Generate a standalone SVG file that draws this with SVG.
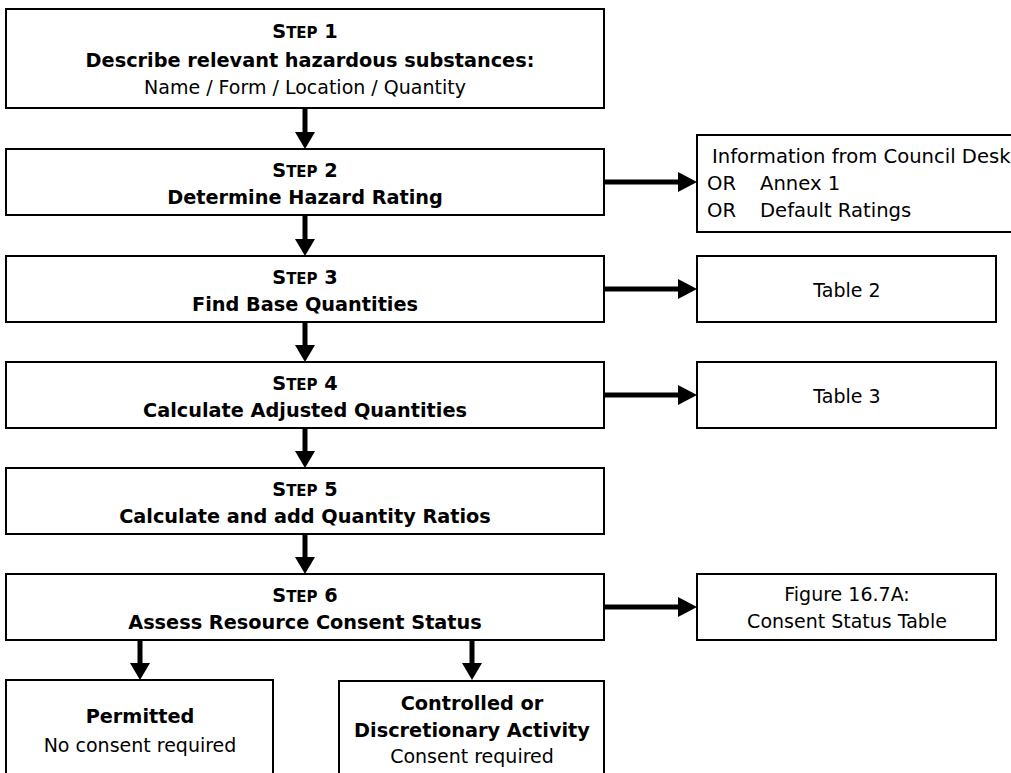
<svg xmlns="http://www.w3.org/2000/svg" width="1011" height="773" viewBox="0 0 1011 773">
<style>
.box{fill:#fff;stroke:#000;stroke-width:2}
text{font-family:"DejaVu Sans","Liberation Sans",sans-serif;fill:#000;text-anchor:middle;font-size:19px}
.b{font-weight:bold;font-size:19.3px}
.sc{font-size:15px}
.l{text-anchor:start;font-size:19.6px}
.conn line{stroke:#000;stroke-width:5}
.conn path{fill:#000;stroke:none}
</style>
<rect width="1011" height="773" fill="#fff"/>
<g id="step1"><rect class="box" x="6" y="9" width="598" height="99"/>
<text class="b" x="305" y="38">S<tspan class="sc">TEP</tspan> 1</text>
<text class="b" x="310" y="67">Describe relevant hazardous substances:</text>
<text x="305" y="94">Name / Form / Location / Quantity</text></g>
<g id="step2"><rect class="box" x="6" y="149" width="598" height="66"/>
<text class="b" x="305" y="177">S<tspan class="sc">TEP</tspan> 2</text>
<text class="b" x="305" y="204">Determine Hazard Rating</text></g>
<g id="step3"><rect class="box" x="6" y="256" width="598" height="66"/>
<text class="b" x="305" y="284">S<tspan class="sc">TEP</tspan> 3</text>
<text class="b" x="305" y="311">Find Base Quantities</text></g>
<g id="step4"><rect class="box" x="6" y="362" width="598" height="66"/>
<text class="b" x="305" y="390">S<tspan class="sc">TEP</tspan> 4</text>
<text class="b" x="305" y="417">Calculate Adjusted Quantities</text></g>
<g id="step5"><rect class="box" x="6" y="468" width="598" height="66"/>
<text class="b" x="305" y="496">S<tspan class="sc">TEP</tspan> 5</text>
<text class="b" x="305" y="523">Calculate and add Quantity Ratios</text></g>
<g id="step6"><rect class="box" x="6" y="574" width="598" height="66"/>
<text class="b" x="305" y="602">S<tspan class="sc">TEP</tspan> 6</text>
<text class="b" x="305" y="629">Assess Resource Consent Status</text></g>
<g id="info"><rect class="box" x="697" y="135" width="330" height="97"/>
<text class="l" x="712" y="163">Information from Council Desk</text>
<text class="l" x="707" y="190">OR</text><text class="l" x="760" y="190">Annex 1</text>
<text class="l" x="707" y="217">OR</text><text class="l" x="760" y="217">Default Ratings</text></g>
<g id="table2"><rect class="box" x="697" y="256" width="299" height="66"/>
<text x="847" y="297">Table 2</text></g>
<g id="table3"><rect class="box" x="697" y="362" width="299" height="66"/>
<text x="847" y="403">Table 3</text></g>
<g id="fig"><rect class="box" x="697" y="574" width="299" height="66"/>
<text x="847" y="601">Figure 16.7A:</text>
<text x="847" y="628">Consent Status Table</text></g>
<g id="permitted"><rect class="box" x="6" y="680" width="267" height="120"/>
<text class="b" x="140" y="723">Permitted</text>
<text x="140" y="752">No consent required</text></g>
<g id="controlled"><rect class="box" x="339" y="681" width="265" height="120"/>
<text class="b" x="472" y="710">Controlled or</text>
<text class="b" x="472" y="737">Discretionary Activity</text>
<text x="472" y="763">Consent required</text></g>
<g class="conn" id="connectors">
<line x1="305" y1="109" x2="305" y2="134"/><path d="M295,132 L315,132 L305,149 z"/>
<line x1="305" y1="216" x2="305" y2="241"/><path d="M295,239 L315,239 L305,256 z"/>
<line x1="305" y1="323" x2="305" y2="347"/><path d="M295,345 L315,345 L305,362 z"/>
<line x1="305" y1="429" x2="305" y2="453"/><path d="M295,451 L315,451 L305,468 z"/>
<line x1="305" y1="535" x2="305" y2="559"/><path d="M295,557 L315,557 L305,574 z"/>
<line x1="140" y1="641" x2="140" y2="665"/><path d="M130,663 L150,663 L140,680 z"/>
<line x1="472" y1="641" x2="472" y2="665"/><path d="M462,663 L482,663 L472,680 z"/>
<line x1="605" y1="182" x2="680" y2="182"/><path d="M678,172 L678,192 L697,182 z"/>
<line x1="605" y1="289" x2="680" y2="289"/><path d="M678,279 L678,299 L697,289 z"/>
<line x1="605" y1="395" x2="680" y2="395"/><path d="M678,385 L678,405 L697,395 z"/>
<line x1="605" y1="607" x2="680" y2="607"/><path d="M678,597 L678,617 L697,607 z"/>
</g>
</svg>
